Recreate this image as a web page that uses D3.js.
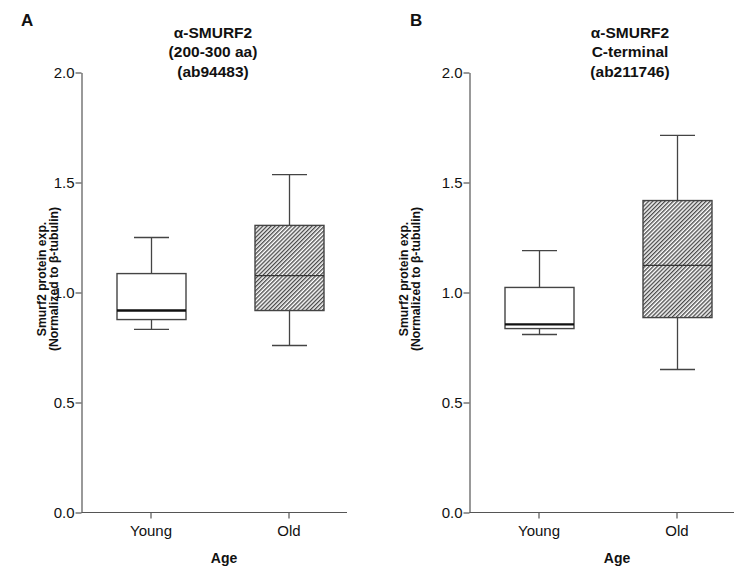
<!DOCTYPE html>
<html>
<head>
<meta charset="utf-8">
<script src="https://cdn.jsdelivr.net/npm/d3@7"></script>
<style>
  html, body { margin: 0; padding: 0; background: #fff; }
  svg { display: block; }
  text { font-family: "Liberation Sans", Arial, Helvetica, sans-serif; fill: #111; }
</style>
</head>
<body>
<svg id="chart" width="734" height="567"></svg>
<script>
// Age groups shown on the x axis
const ageGroups = ["Young", "Old"];

// Box-plot summaries, one value per age group (Young, Old)
// Panel A: α-SMURF2 (200-300 aa), ab94483
const aWhiskerLow  = [0.832, 0.759];
const aQ1          = [0.877, 0.918];
const aMedian      = [0.918, 1.077];
const aQ3          = [1.086, 1.305];
const aWhiskerHigh = [1.250, 1.536];

// Panel B: α-SMURF2 C-terminal, ab211746
const bWhiskerLow  = [0.809, 0.650];
const bQ1          = [0.836, 0.886];
const bMedian      = [0.855, 1.123];
const bQ3          = [1.023, 1.418];
const bWhiskerHigh = [1.190, 1.714];

// Axis ticks
const yTicks = [0.0, 0.5, 1.0, 1.5, 2.0];

const panels = [
  {
    letter: "A",
    title: ["α-SMURF2", "(200-300 aa)", "(ab94483)"],
    low: aWhiskerLow, q1: aQ1, med: aMedian, q3: aQ3, high: aWhiskerHigh,
    axisX: 81.5, axisEnd: 347, letterX: 21, titleX: 213,
    yLabelX: [46, 58], ageX: 224
  },
  {
    letter: "B",
    title: ["α-SMURF2", "C-terminal", "(ab211746)"],
    low: bWhiskerLow, q1: bQ1, med: bMedian, q3: bQ3, high: bWhiskerHigh,
    axisX: 469.5, axisEnd: 735, letterX: 410, titleX: 630,
    yLabelX: [408, 420], ageX: 617
  }
];

const svg = d3.select("#chart");

// Diagonal hatch used to fill the "Old" boxes
const defs = svg.append("defs");
defs.append("pattern")
  .attr("id", "hatch")
  .attr("patternUnits", "userSpaceOnUse")
  .attr("width", 2.9)
  .attr("height", 2.9)
  .attr("patternTransform", "rotate(45)")
  .call(p => {
    p.append("rect").attr("width", 2.9).attr("height", 2.9).attr("fill", "#fff");
    p.append("line")
      .attr("x1", 0.7).attr("y1", 0).attr("x2", 0.7).attr("y2", 2.9)
      .attr("stroke", "#3a3a3a").attr("stroke-width", 1.25);
  });

const y = d3.scaleLinear().domain([0, 2]).range([512.5, 72.5]);

const axisColor = "#555";
const boxColor = "#444";
const boxWidth = 69;
const capWidth = 35;

panels.forEach(p => {
  const g = svg.append("g");

  // Categorical positions along the x axis
  const x = d3.scalePoint()
    .domain(ageGroups)
    .range([p.axisX, p.axisX + 276])
    .padding(0.5);

  // Panel letter
  g.append("text")
    .attr("x", p.letterX).attr("y", 26)
    .attr("font-size", 17).attr("font-weight", "bold")
    .text(p.letter);

  // Three-line title
  const baselines = [37.5, 57, 76.5];
  p.title.forEach((line, i) => {
    g.append("text")
      .attr("x", p.titleX).attr("y", baselines[i])
      .attr("text-anchor", "middle")
      .attr("font-size", 15.5).attr("font-weight", "bold")
      .text(line);
  });

  // Y axis
  const yAxis = g.append("g")
    .attr("transform", `translate(${p.axisX},0)`)
    .call(d3.axisLeft(y).tickValues(yTicks).tickFormat(d3.format(".1f")).tickSize(6).tickSizeOuter(0).tickPadding(1));
  yAxis.select(".domain").attr("stroke", axisColor).attr("stroke-width", 1.2);
  yAxis.selectAll(".tick line").attr("stroke", axisColor).attr("stroke-width", 1.2);
  yAxis.selectAll(".tick text")
    .attr("font-size", 15).attr("fill", "#222")
    .attr("font-family", "'Liberation Sans', Arial, sans-serif");

  // X axis: ticks from the scale, baseline drawn to the panel edge
  const xAxis = g.append("g")
    .attr("transform", `translate(0,${y(0)})`)
    .call(d3.axisBottom(x).tickSize(6).tickSizeOuter(0).tickPadding(7));
  xAxis.select(".domain").remove();
  xAxis.selectAll(".tick line").attr("stroke", axisColor).attr("stroke-width", 1.2);
  xAxis.selectAll(".tick text")
    .attr("font-size", 15).attr("fill", "#222")
    .attr("font-family", "'Liberation Sans', Arial, sans-serif");
  g.append("line")
    .attr("x1", p.axisX).attr("x2", p.axisEnd)
    .attr("y1", y(0)).attr("y2", y(0))
    .attr("stroke", axisColor).attr("stroke-width", 1.2);

  // X axis title
  g.append("text")
    .attr("x", p.ageX).attr("y", 563)
    .attr("text-anchor", "middle")
    .attr("font-size", 14).attr("font-weight", "bold")
    .text("Age");

  // Y axis title (two rotated lines)
  const yLines = ["Smurf2 protein exp.", "(Normalized to β-tubulin)"];
  yLines.forEach((line, i) => {
    g.append("text")
      .attr("transform", `translate(${p.yLabelX[i]},279) rotate(-90)`)
      .attr("text-anchor", "middle")
      .attr("font-size", 12.2).attr("font-weight", "bold")
      .text(line);
  });

  // Boxes
  ageGroups.forEach((grp, i) => {
    const cx = Math.round(x(grp)) + 0.5;
    const hatched = grp === "Old";
    const bg = g.append("g");

    // Whisker stems
    bg.append("line")
      .attr("x1", cx).attr("x2", cx)
      .attr("y1", y(p.high[i])).attr("y2", y(p.q3[i]))
      .attr("stroke", boxColor).attr("stroke-width", 1.3);
    bg.append("line")
      .attr("x1", cx).attr("x2", cx)
      .attr("y1", y(p.q1[i])).attr("y2", y(p.low[i]))
      .attr("stroke", boxColor).attr("stroke-width", 1.3);

    // Whisker caps
    [p.high[i], p.low[i]].forEach(v => {
      bg.append("line")
        .attr("x1", cx - capWidth / 2).attr("x2", cx + capWidth / 2)
        .attr("y1", y(v)).attr("y2", y(v))
        .attr("stroke", boxColor).attr("stroke-width", 1.3);
    });

    // Interquartile box
    bg.append("rect")
      .attr("x", cx - boxWidth / 2)
      .attr("y", y(p.q3[i]))
      .attr("width", boxWidth)
      .attr("height", y(p.q1[i]) - y(p.q3[i]))
      .attr("fill", hatched ? "url(#hatch)" : "#fff")
      .attr("stroke", boxColor).attr("stroke-width", 1.4);

    // Median
    bg.append("line")
      .attr("x1", cx - boxWidth / 2).attr("x2", cx + boxWidth / 2)
      .attr("y1", y(p.med[i])).attr("y2", y(p.med[i]))
      .attr("stroke", hatched ? "#333" : "#111")
      .attr("stroke-width", hatched ? 1.2 : 2.4);
  });
});
</script>
</body>
</html>
